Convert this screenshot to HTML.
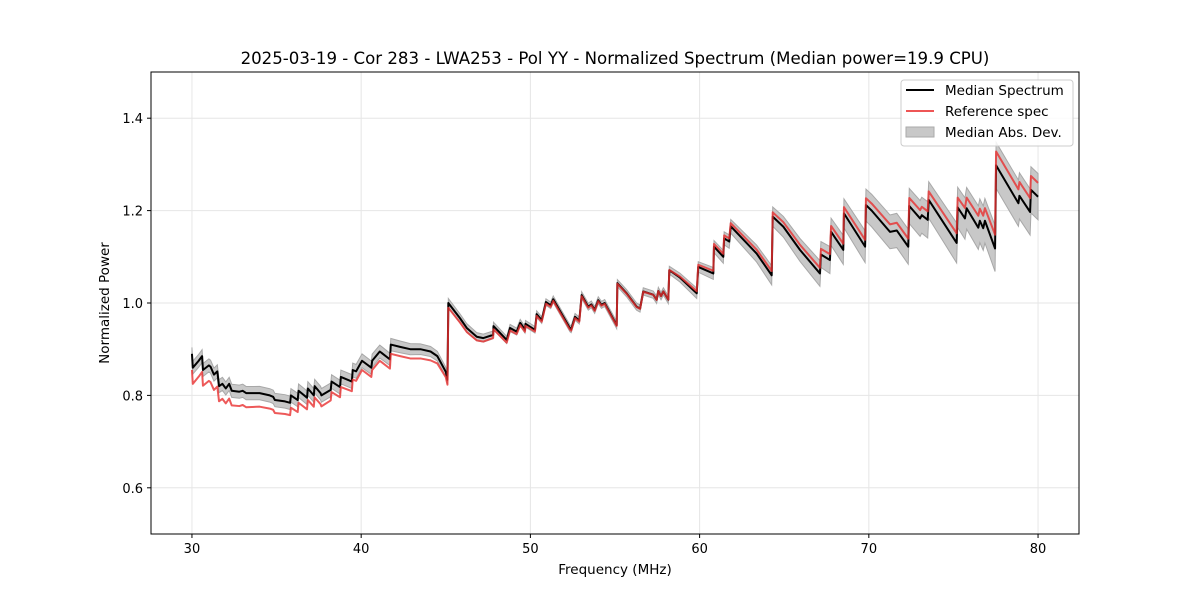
<!DOCTYPE html>
<html><head><meta charset="utf-8">
<style>
body{margin:0;background:#fff;font-family:"Liberation Sans","DejaVu Sans",sans-serif;}
svg text{font-family:"DejaVu Sans","Liberation Sans",sans-serif;}
</style></head>
<body>
<svg id="chart" width="1200" height="600" viewBox="0 0 1200 600" xmlns="http://www.w3.org/2000/svg">
<rect width="1200" height="600" fill="#fff"/>
<text x="615" y="64" font-size="16.6" text-anchor="middle" fill="#000">2025-03-19 - Cor 283 - LWA253 - Pol YY - Normalized Spectrum (Median power=19.9 CPU)</text>
<defs><clipPath id="clip"><rect x="151" y="72" width="928" height="462"/></clipPath></defs>
<g id="grid"></g>
<g id="plot" clip-path="url(#clip)"></g>
<rect x="151" y="72" width="928" height="462" fill="none" stroke="#000" stroke-width="1"/>
<g id="axes"></g>
<text x="615" y="574" font-size="13.5" text-anchor="middle">Frequency (MHz)</text>
<text transform="translate(109,303) rotate(-90)" font-size="13.5" text-anchor="middle">Normalized Power</text>
<g>
<rect x="901" y="80" width="172" height="66" rx="3" fill="#fff" fill-opacity="0.85" stroke="#ccc"/>
<line x1="906" y1="90" x2="934" y2="90" stroke="#000" stroke-width="2"/>
<text x="945" y="95" font-size="13.5">Median Spectrum</text>
<line x1="906" y1="111" x2="934" y2="111" stroke="#ee5555" stroke-width="2"/>
<text x="945" y="116" font-size="13.5">Reference spec</text>
<rect x="906" y="127" width="28" height="10" fill="#c8c8c8" stroke="#aaa"/>
<text x="945" y="137" font-size="13.5">Median Abs. Dev.</text>
</g>
</svg>
<script>
const freqs=[30.0,30.05,30.4,30.6,30.65,31.0,31.1,31.3,31.5,31.6,31.8,32.0,32.2,32.35,32.8,33.0,33.2,34.0,34.6,34.8,34.9,35.5,35.8,35.85,36.25,36.3,36.8,36.85,37.2,37.25,37.6,37.65,38.2,38.25,38.75,38.8,39.45,39.5,39.7,40.05,40.6,40.65,41.1,41.7,41.75,42.3,42.9,43.5,44.1,44.5,45.0,45.1,45.15,45.84,46.24,46.83,47.22,47.8,47.82,48.6,48.8,49.19,49.4,49.68,49.71,50.27,50.37,50.67,50.92,51.2,51.35,52.34,52.41,52.64,52.89,53.03,53.42,53.6,53.8,54.01,54.2,54.39,55.1,55.14,55.69,56.28,56.48,56.67,57.26,57.46,57.56,57.72,57.86,58.15,58.21,58.84,59.83,59.92,60.81,60.85,61.4,61.45,61.75,61.84,63.37,64.26,64.32,64.95,65.93,67.11,67.17,67.7,67.77,68.49,68.53,69.78,69.83,70.17,71.25,71.65,72.33,72.39,73.03,73.13,73.48,73.54,75.19,75.25,75.68,75.78,76.47,76.56,76.76,76.86,77.46,77.52,78.84,78.9,79.53,79.58,80.0];
const median=[0.89,0.86,0.875,0.885,0.855,0.865,0.862,0.845,0.852,0.82,0.825,0.815,0.825,0.81,0.808,0.81,0.805,0.805,0.8,0.797,0.79,0.787,0.784,0.8,0.79,0.81,0.795,0.815,0.8,0.82,0.805,0.8,0.812,0.83,0.818,0.84,0.83,0.855,0.852,0.875,0.86,0.875,0.895,0.878,0.91,0.905,0.9,0.9,0.895,0.885,0.851,0.834,1.0,0.967,0.946,0.927,0.924,0.931,0.95,0.92,0.946,0.938,0.957,0.942,0.955,0.942,0.976,0.963,1.002,0.995,1.008,0.945,0.943,0.97,0.962,1.017,0.992,0.997,0.985,1.006,0.996,1.0,0.952,1.043,1.021,0.992,0.988,1.025,1.018,1.007,1.026,1.015,1.025,1.007,1.071,1.055,1.021,1.078,1.064,1.122,1.1,1.14,1.133,1.166,1.107,1.06,1.187,1.165,1.115,1.064,1.105,1.093,1.154,1.115,1.194,1.122,1.212,1.2,1.154,1.157,1.122,1.21,1.183,1.19,1.18,1.223,1.13,1.207,1.183,1.205,1.163,1.178,1.162,1.178,1.118,1.298,1.216,1.232,1.197,1.245,1.23];
const refOffsetFreqs=[30,35,40,44,45.2,50,58,60,65,70,75,77.5,80];
const refOffsetVals=[-0.035,-0.028,-0.02,-0.02,-0.01,-0.004,0,0.005,0.01,0.015,0.02,0.03,0.03];
const madFreqs=[30,40,45,50,58,62,66,70,74,77.5,80];
const madVals=[0.014,0.015,0.01,0.007,0.008,0.015,0.025,0.035,0.04,0.05,0.05];
const xTicks=[30,40,50,60,70,80];
const yTicks=[0.6,0.8,1.0,1.2,1.4];

const X0=151,X1=1079,Y0=534,Y1=72,XMIN=27.58,XMAX=82.42,YMIN=0.5,YMAX=1.5;
const xs=f=>X0+(f-XMIN)/(XMAX-XMIN)*(X1-X0);
const ys=v=>Y0-(v-YMIN)/(YMAX-YMIN)*(Y0-Y1);
function interp(fa,va,f){for(let i=0;i<fa.length-1;i++){if(f<=fa[i+1]){const t=(f-fa[i])/(fa[i+1]-fa[i]);return va[i]+t*(va[i+1]-va[i]);}}return va[va.length-1];}
const NS="http://www.w3.org/2000/svg";
function mk(tag,attrs,parent){const e=document.createElementNS(NS,tag);for(const k in attrs)e.setAttribute(k,attrs[k]);parent.appendChild(e);return e;}
const grid=document.getElementById('grid'),axes=document.getElementById('axes'),plot=document.getElementById('plot');
xTicks.forEach(t=>{const x=xs(t);
 const g=mk('line',{x1:x,x2:x,y1:Y1,y2:Y0,stroke:'#e6e6e6','stroke-width':1},grid);
 
 
 mk('line',{x1:x,x2:x,y1:Y0,y2:Y0+4,stroke:'#000'},axes);
 const tx=mk('text',{x:x,y:Y0+19,'font-size':13,'text-anchor':'middle'},axes);tx.textContent=t;
 
 
});
yTicks.forEach(t=>{const y=ys(t);
 const g=mk('line',{x1:X0,x2:X1,y1:y,y2:y,stroke:'#e6e6e6','stroke-width':1},grid);
 
 
 mk('line',{x1:X0-4,x2:X0,y1:y,y2:y,stroke:'#000'},axes);
 const tx=mk('text',{x:X0-8,y:y+5,'font-size':13,'text-anchor':'end'},axes);tx.textContent=t.toFixed(1);
 
 
});
let up=[],dn=[];
freqs.forEach((f,i)=>{const m=interp(madFreqs,madVals,f);up.push(xs(f)+','+ys(median[i]+m));dn.unshift(xs(f)+','+ys(median[i]-m));});
const band=mk('polygon',{points:up.concat(dn).join(' '),fill:'#c8c8c8',stroke:'#a8a8a8','stroke-width':1},plot);


const refPts=freqs.map((f,i)=>xs(f)+','+ys(median[i]+interp(refOffsetFreqs,refOffsetVals,f))).join(' ');
const medPts=freqs.map((f,i)=>xs(f)+','+ys(median[i])).join(' ');
const ml=mk('polyline',{points:medPts,fill:'none',stroke:'#000','stroke-width':2,'stroke-linejoin':'round'},plot);


const rl=mk('polyline',{points:refPts,fill:'none',stroke:'#e83030','stroke-opacity':0.8,'stroke-width':2,'stroke-linejoin':'round'},plot);


</script>
</body></html>
